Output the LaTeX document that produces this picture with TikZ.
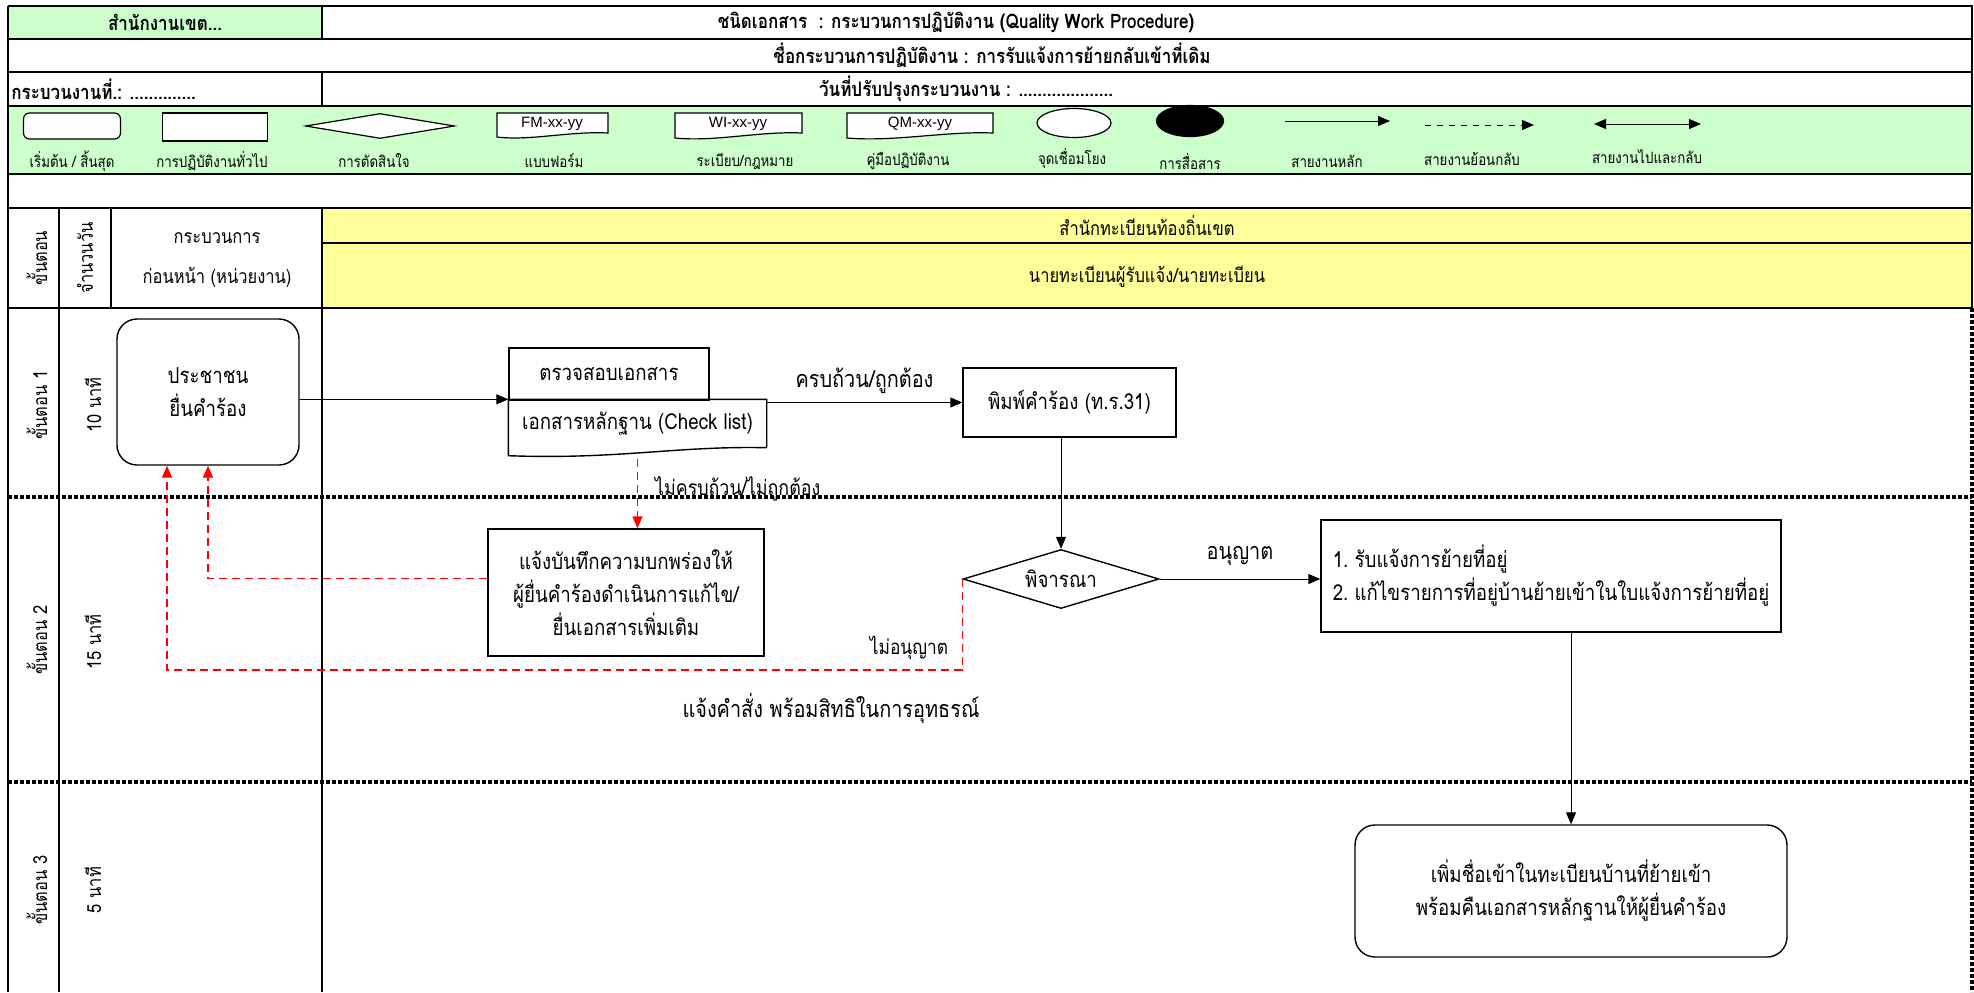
\documentclass[tikz,border=0pt]{standalone}
\usepackage{fontspec}
\setmainfont[Script=Thai, FakeStretch=0.85]{Loma}
\newfontfamily\arialfont{Liberation Sans}
\usepackage{tikz}
\usetikzlibrary{arrows.meta}
\usetikzlibrary{shapes.geometric}
\usetikzlibrary{calc}

\definecolor{legendgreen}{RGB}{204,255,204}
\definecolor{laneyellow}{RGB}{255,255,153}

\tikzset{
  grid/.style={line width=1.4pt},
  sep/.style={line width=1.6pt, dash pattern=on 2.2pt off 0.8pt},
  box/.style={draw, line width=0.7pt, inner sep=0pt, align=center, font=\fontsize{11}{16.5}\selectfont},
  flow/.style={-{Triangle[length=6pt,width=5pt]}, line width=0.5pt},
  back/.style={flow, red, dash pattern=on 4pt off 2.5pt, line width=0.7pt},
  sym/.style={draw, fill=white, line width=0.6pt, inner sep=0pt},
  legend/.style={font=\fontsize{7.8}{10}\selectfont},
  head/.style={font=\bfseries\fontsize{10}{13}\selectfont},
  lane/.style={font=\fontsize{9.7}{16}\selectfont, align=center},
  note/.style={font=\fontsize{11.7}{16}\selectfont},
}

\begin{document}
\begin{tikzpicture}[x={(0.5pt,0)}, y={(0,-0.5pt)}]
      \useasboundingbox (0,0) rectangle (1974,992);

      \fill[legendgreen] (8,6) rectangle (322,39);
      \fill[legendgreen] (8,106) rectangle (1972,174);
      \fill[laneyellow] (322,208) rectangle (1972,308);

      \draw[sep] (8,497) -- (1972,497);
      \draw[sep] (8,782) -- (1972,782);
      \draw[sep] (1972,308) -- (1972,992);

      \draw[grid] (8,6) -- (1972,6) -- (1972,308);
      \draw[grid] (8,6) -- (8,992);
      \draw[grid] (8,39) -- (1972,39);
      \draw[grid] (8,72) -- (1972,72);
      \draw[grid] (8,106) -- (1972,106);
      \draw[grid] (8,174) -- (1972,174);
      \draw[grid] (8,208) -- (1972,208);
      \draw[grid] (322,243) -- (1972,243);
      \draw[grid] (8,308) -- (1972,308);
      \draw[grid] (322,6) -- (322,39);
      \draw[grid] (322,72) -- (322,106);
      \draw[grid] (322,208) -- (322,992);
      \draw[grid] (59,208) -- (59,992);
      \draw[grid] (111,208) -- (111,308);

      \node[head] (h1) at (165,22) {สำนักงานเขต...};
      \node[head] (h2) at (956,22) {ชนิดเอกสาร\ \ : กระบวนการปฏิบัติงาน (Quality Work Procedure)};
      \node[head] (h3) at (992,55) {ชื่อกระบวนการปฏิบัติงาน : การรับแจ้งการย้ายกลับเข้าที่เดิม};
      \node[head, anchor=west, inner sep=1pt] (h4) at (9,89) {กระบวนงานที่.: ..............};
      \node[head] (h5) at (966,89) {วันที่ปรับปรุงกระบวนงาน : ....................};

      \node[sym, rounded corners=3pt, minimum width=48.5pt, minimum height=13pt] (l1) at (72,126) {};
      \node[sym, minimum width=52.5pt, minimum height=14pt] (l2) at (215,127) {};
      \node[sym, diamond, minimum width=74.5pt, minimum height=12.5pt] (l3) at (380,126) {};
      \draw[fill=white, line width=0.6pt] (497,113) -- (608,113) -- (608,133) .. controls (570,131) and (530,141) .. (497,137) -- cycle;
      \draw[fill=white, line width=0.6pt] (675,113) -- (802,113) -- (802,133) .. controls (760,131) and (715,142) .. (675,138) -- cycle;
      \draw[fill=white, line width=0.6pt] (847,113) -- (993,113) -- (993,133) .. controls (945,131) and (895,142) .. (847,138) -- cycle;
      \node[font=\arialfont\fontsize{7.5}{9}\selectfont] (l4) at (552,124) {FM-xx-yy};
      \node[font=\arialfont\fontsize{7.5}{9}\selectfont] (l5) at (738,124) {WI-xx-yy};
      \node[font=\arialfont\fontsize{7.5}{9}\selectfont] (l6) at (920,124) {QM-xx-yy};
      \node[sym, ellipse, minimum width=37pt, minimum height=14.5pt] (l7) at (1074,123) {};
      \node[sym, ellipse, fill=black, minimum width=33.5pt, minimum height=15.5pt] (l8) at (1190,121) {};
      \coordinate (a1) at (1285,121);
      \coordinate (a2) at (1390,121);
      \coordinate (a3) at (1425,125);
      \coordinate (a4) at (1534,125);
      \coordinate (a5) at (1594,124);
      \coordinate (a6) at (1701,124);
      \draw[flow] (a1) -- (a2);
      \draw[flow, dashed] (a3) -- (a4);
      \draw[flow, {Triangle[length=6pt,width=5pt]}-{Triangle[length=6pt,width=5pt]}] (a5) -- (a6);

      \node[legend] (t1) at (72,161) {เริ่มต้น / สิ้นสุด};
      \node[legend] (t2) at (212,161) {การปฏิบัติงานทั่วไป};
      \node[legend] (t3) at (374,161) {การตัดสินใจ};
      \node[legend] (t4) at (554,161) {แบบฟอร์ม};
      \node[legend] (t5) at (745,161) {ระเบียบ/กฎหมาย};
      \node[legend] (t6) at (908,161) {คู่มือปฏิบัติงาน};
      \node[legend] (t7) at (1072,159) {จุดเชื่อมโยง};
      \node[legend] (t8) at (1190,162) {การสื่อสาร};
      \node[legend] (t9) at (1327,161) {สายงานหลัก};
      \node[legend] (t10) at (1472,159) {สายงานย้อนกลับ};
      \node[legend] (t11) at (1647,157) {สายงานไปและกลับ};

      \node[lane, rotate=90] (c1) at (37,258) {ขั้นตอน};
      \node[lane, rotate=90] (c2) at (85,258) {จำนวนวัน};
      \node[lane, font=\fontsize{9.7}{20}\selectfont] (c3) at (217,260) {กระบวนการ\\ก่อนหน้า (หน่วยงาน)};
      \node[lane] (c4) at (1147,226) {สำนักทะเบียนท้องถิ่นเขต};
      \node[lane] (c5) at (1147,277) {นายทะเบียนผู้รับแจ้ง/นายทะเบียน};

      \node[lane, rotate=90] (s1) at (37,405) {ขั้นตอน 1};
      \node[lane, rotate=90] (d1) at (93,405) {10 นาที};
      \node[lane, rotate=90] (s2) at (37,640) {ขั้นตอน 2};
      \node[lane, rotate=90] (d2) at (93,642) {15 นาที};
      \node[lane, rotate=90] (s3) at (37,890) {ขั้นตอน 3};
      \node[lane, rotate=90] (d3) at (93,890) {5 นาที};

      \node[box, rounded corners=10pt, minimum width=91pt, minimum height=73pt] (1) at (208,392) {ประชาชน\\ยื่นคำร้อง};
      \node[box, minimum width=100pt, minimum height=26pt] (2) at (609,374) {ตรวจสอบเอกสาร};
      \node[box, draw=none, minimum width=128.5pt, minimum height=23.5pt] (3) at (637.5,423.5) {เอกสารหลักฐาน (Check list)};
      \draw[line width=0.7pt] (3.south east) -- (3.north east) -- (3.north west) -- ($(3.south west)+(0,8)$) .. controls ($(3.south west)+(110,12)$) and ($(3.south east)+(-90,-2)$) .. (3.south east);
      \node[box, minimum width=106.5pt, minimum height=34.5pt] (4) at (1069.5,402.5) {พิมพ์คำร้อง (ท.ร.31)};
      \node[box, diamond, aspect=3.3, minimum width=98pt, minimum height=29.5pt] (5) at (1061,579) {พิจารณา};
      \node[box, minimum width=138pt, minimum height=63.5pt] (6) at (626,592.5) {แจ้งบันทึกความบกพร่องให้\\ผู้ยื่นคำร้องดำเนินการแก้ไข/\\ยื่นเอกสารเพิ่มเติม};
      \node[box, align=left, minimum width=230pt, minimum height=56pt] (7) at (1551,576) {1.~รับแจ้งการย้ายที่อยู่\\2.~แก้ไขรายการที่อยู่บ้านย้ายเข้าในใบแจ้งการย้ายที่อยู่};
      \node[box, rounded corners=10pt, minimum width=216pt, minimum height=66pt] (8) at (1571,891) {เพิ่มชื่อเข้าในทะเบียนบ้านที่ย้ายเข้า\\พร้อมคืนเอกสารหลักฐานให้ผู้ยื่นคำร้อง};

      \draw[flow] (1.east |- 3.north west) -- (3.north west);
      \draw[flow] (3.north east |- 4.west) -- node[note, above=1pt] {ครบถ้วน/ถูกต้อง} (4.west);
      \draw[flow] (4.south -| 5.north) -- (5.north);
      \draw[flow] (5.east) -- node[note, above=3pt] {อนุญาต} (7.west |- 5.east);
      \draw[flow] (7.south -| 8.north) -- (8.north);

      \coordinate (r1) at (167,670);
      \draw[back] ($(3.south)+(0,11)$) -- (3.south |- 6.north);
      \draw[back] ($(6.west)+(0,-14)$) -| (1.south);
      \draw[back] (5.west) |- (r1) -- (r1 |- 1.south);

      \node[note, font=\fontsize{10.5}{16}\selectfont, anchor=west] (n1) at (648,489) {ไม่ครบถ้วน/ไม่ถูกต้อง};
      \node[note, font=\fontsize{10.2}{16}\selectfont] (n2) at (909,648) {ไม่อนุญาต};
      \node[note] (n3) at (831,709) {แจ้งคำสั่ง พร้อมสิทธิในการอุทธรณ์};
    \end{tikzpicture}
\end{document}
